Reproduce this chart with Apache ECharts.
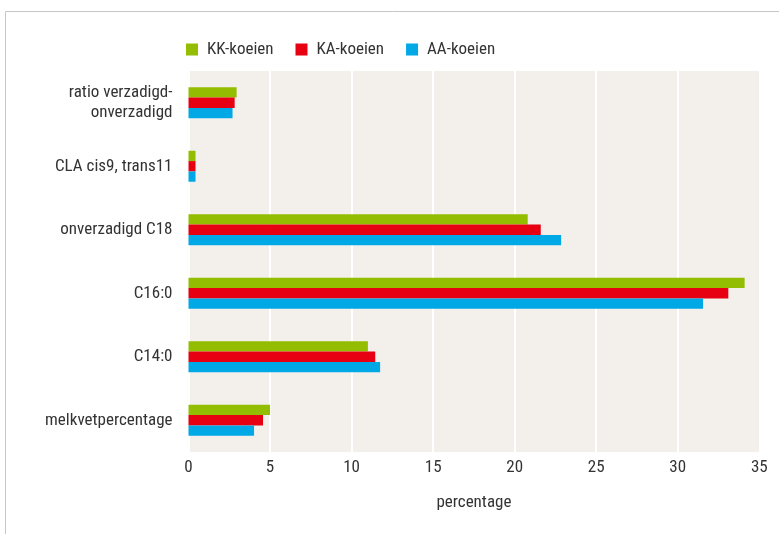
<!DOCTYPE html>
<html>
<head>
<meta charset="utf-8">
<title>Vetzuren in melk</title>
<script src="https://cdn.jsdelivr.net/npm/echarts@6/dist/echarts.min.js"></script>
<style>
  html, body { margin: 0; padding: 0; background: #ffffff; }
  #chart { width: 779px; height: 534px; }
</style>
</head>
<body>
<div id="chart"></div>
<script>
// Categories, listed top to bottom
const categories = [
  'ratio verzadigd-\nonverzadigd',
  'CLA cis9, trans11',
  'onverzadigd C18',
  'C16:0',
  'C14:0',
  'melkvetpercentage'
];

const seriesNames = ['KK-koeien', 'KA-koeien', 'AA-koeien'];

// Values per group (percentage), same order as categories
const kkValues = [2.95, 0.43, 20.8, 34.1, 11.0, 5.0];
const kaValues = [2.83, 0.43, 21.6, 33.1, 11.45, 4.57];
const aaValues = [2.7, 0.43, 22.85, 31.55, 11.75, 4.02];

const xTicks = { min: 0, max: 35, interval: 5 };
const xName = 'percentage';

const colors = ['#93bd00', '#e60012', '#00a8e6'];
const font = '"Roboto Condensed", "DejaVu Sans Condensed", "Liberation Sans Narrow", Roboto, sans-serif';
const textColor = '#333333';

const chart = echarts.init(document.getElementById('chart'), null, { renderer: 'canvas' });

const allValues = [kkValues, kaValues, aaValues];

chart.setOption({
  animation: false,
  backgroundColor: '#ffffff',
  graphic: [{
    type: 'rect',
    shape: { x: 5.5, y: 11.5, width: 900, height: 700 },
    style: { fill: 'none', stroke: '#c6c6c6', lineWidth: 1 },
    silent: true,
    z: 0
  }],
  legend: {
    left: 186,
    top: 41,
    padding: 0,
    itemWidth: 12,
    itemHeight: 12,
    itemGap: 22,
    icon: 'rect',
    textStyle: {
      fontFamily: font,
      fontSize: 17,
      color: textColor,
      padding: [0, 0, 0, 4]
    },
    data: seriesNames
  },
  grid: {
    left: 188.5,
    right: 19.7,
    top: 71,
    bottom: 82,
    show: true,
    backgroundColor: '#f3f0ec',
    borderWidth: 0
  },
  xAxis: {
    type: 'value',
    min: xTicks.min,
    max: xTicks.max,
    interval: xTicks.interval,
    name: xName,
    nameLocation: 'middle',
    nameGap: 42,
    nameTextStyle: { fontFamily: font, fontSize: 17, color: textColor },
    axisLine: { show: false },
    axisTick: { show: false },
    axisLabel: { fontFamily: font, fontSize: 17, color: textColor, margin: 7 },
    splitLine: { show: true, lineStyle: { color: '#ffffff', width: 2 } }
  },
  yAxis: {
    type: 'category',
    inverse: true,
    data: categories,
    axisLine: { show: false },
    axisTick: { show: false },
    axisLabel: {
      fontFamily: font,
      fontSize: 17,
      color: textColor,
      margin: 16,
      lineHeight: 20,
      align: 'right'
    },
    splitLine: { show: false }
  },
  series: seriesNames.map((name, i) => ({
    name: name,
    type: 'bar',
    data: allValues[i],
    barWidth: 10.33,
    barGap: '0%',
    itemStyle: { color: colors[i] },
    emphasis: { disabled: true }
  }))
});
</script>
</body>
</html>
